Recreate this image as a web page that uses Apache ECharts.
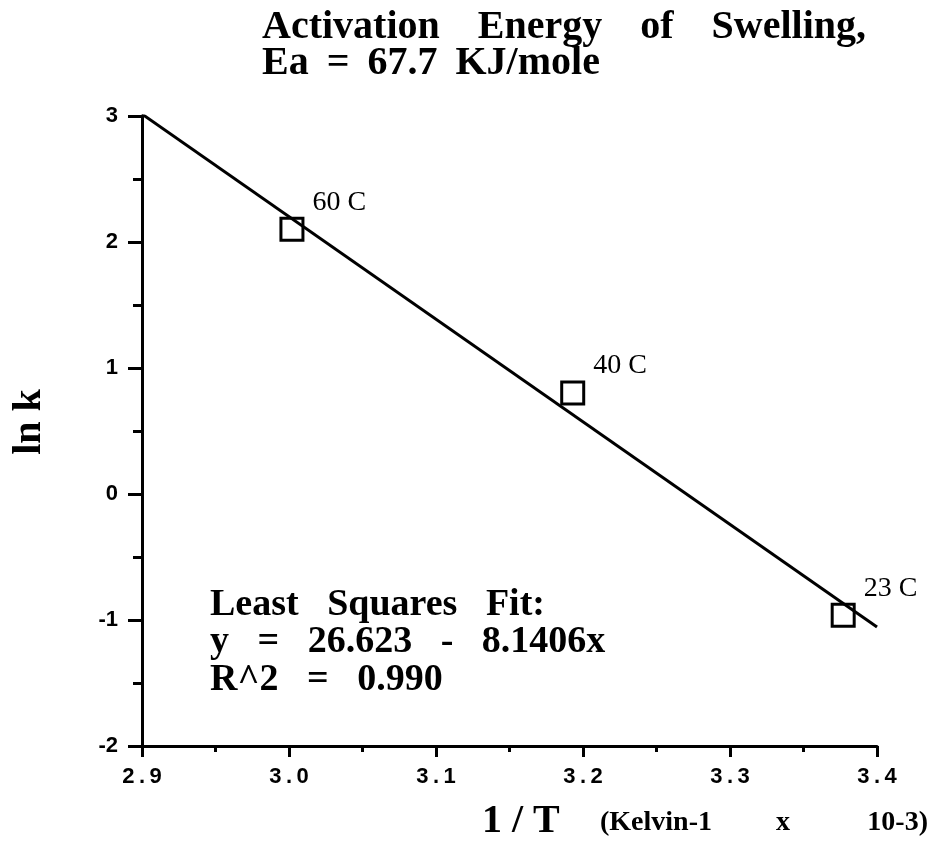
<!DOCTYPE html>
<html>
<head>
<meta charset="utf-8">
<script src="https://cdn.jsdelivr.net/npm/echarts@6/dist/echarts.min.js"></script>
<style>
  html, body { margin: 0; padding: 0; background: #fff; }
  #chart { width: 938px; height: 856px; }
</style>
</head>
<body>
<div id="chart"></div>
<script>
// Swelling rate vs. reciprocal temperature (Arrhenius plot)
const tempLabels = ['60 C', '40 C', '23 C'];
const invT = [3.002, 3.193, 3.377];      // 1/T, K^-1 x 10^-3
const lnK = [2.102, 0.802, -0.962];

// Least squares fit stated on the chart: y = 26.623 - 8.1406x
const fitIntercept = 26.623;
const fitSlope = -8.1406;
const fitRange = [2.9, 3.4];

const xTicks = ['2.9', '3.0', '3.1', '3.2', '3.3', '3.4'];
const yTicks = ['-2', '-1', '0', '1', '2', '3'];

const fitLine = fitRange.map(x => [x, fitIntercept + fitSlope * x]);
const points = invT.map((x, i) => ({ value: [x, lnK[i]], name: tempLabels[i] }));

const serif = '"Liberation Serif", "Times New Roman", serif';
const sans = '"Liberation Sans", Arial, sans-serif';
const thin = '\u2009';
const gap = '   ' + thin;       // wide word spacing
const gap2 = ' ' + thin;        // narrower word spacing

function tickText(list, v, spaced) {
  const t = list.find(s => Math.abs(parseFloat(s) - v) < 1e-6);
  if (!t) return '';
  return spaced ? t.split('').join(thin) : t;
}

const chart = echarts.init(document.getElementById('chart'), null, { renderer: 'canvas' });
chart.setOption({
  backgroundColor: '#ffffff',
  animation: false,
  grid: { left: 142, right: 61, top: 116, bottom: 110, containLabel: false },
  xAxis: {
    type: 'value',
    min: 2.9, max: 3.4, interval: 0.1,
    axisLine: { show: true, onZero: false, lineStyle: { color: '#000', width: 3 } },
    axisTick: { show: true, inside: false, length: 11, lineStyle: { color: '#000', width: 3 } },
    minorTick: { show: true, splitNumber: 2, length: 6, lineStyle: { color: '#000', width: 3 } },
    splitLine: { show: false },
    axisLabel: {
      margin: 20, color: '#000', fontFamily: sans, fontSize: 22, fontWeight: 'bold',
      formatter: v => tickText(xTicks, v, true)
    }
  },
  yAxis: {
    type: 'value',
    min: -2, max: 3, interval: 1,
    axisLine: { show: true, onZero: false, lineStyle: { color: '#000', width: 3 } },
    axisTick: { show: true, inside: false, length: 14, lineStyle: { color: '#000', width: 3 } },
    minorTick: { show: true, splitNumber: 2, length: 9, lineStyle: { color: '#000', width: 3 } },
    splitLine: { show: false },
    axisLabel: {
      margin: 24, color: '#000', fontFamily: sans, fontSize: 22, fontWeight: 'bold',
      formatter: v => tickText(yTicks, v, false)
    }
  },
  series: [
    {
      type: 'line',
      data: fitLine,
      showSymbol: false,
      lineStyle: { color: '#000', width: 3 },
      z: 2
    },
    {
      type: 'scatter',
      data: points,
      symbol: 'rect',
      symbolSize: 22,
      itemStyle: { color: 'rgba(0,0,0,0)', borderColor: '#000', borderWidth: 3, opacity: 1 },
      label: {
        show: true,
        formatter: p => p.name,
        position: 'right',
        distance: 5,
        offset: [3, -27],
        color: '#000', fontFamily: serif, fontSize: 28, opacity: 1
      },
      z: 3
    }
  ],
  graphic: [
    {
      type: 'text', left: 262, top: 8,
      style: {
        text: ['Activation', 'Energy', 'of', 'Swelling,'].join(gap) + '\n' +
              ['Ea', '=', '67.7', 'KJ/mole'].join(gap2),
        font: 'bold 40px ' + serif, fill: '#000', lineHeight: 36
      }
    },
    {
      type: 'text', left: 210, top: 586,
      style: {
        text: 'Least   Squares   Fit:\ny   =   26.623   -   8.1406x\nR^2   =   0.990',
        font: 'bold 38px ' + serif, fill: '#000', lineHeight: 37.5
      }
    },
    {
      type: 'text', left: 482, top: 802,
      style: { text: '1 / T', font: 'bold 40px ' + serif, fill: '#000' }
    },
    {
      type: 'text', left: 600, top: 809,
      style: { text: '(Kelvin-1', font: 'bold 28px ' + serif, fill: '#000' }
    },
    {
      type: 'text', left: 776, top: 809,
      style: { text: 'x', font: 'bold 28px ' + serif, fill: '#000' }
    },
    {
      type: 'text', right: 10, top: 809,
      style: { text: '10-3)', font: 'bold 28px ' + serif, fill: '#000' }
    },
    {
      type: 'text', x: 30, y: 422, rotation: Math.PI / 2,
      style: { text: 'ln k', font: 'bold 40px ' + serif, fill: '#000', align: 'center', verticalAlign: 'middle' }
    }
  ]
});
</script>
</body>
</html>
